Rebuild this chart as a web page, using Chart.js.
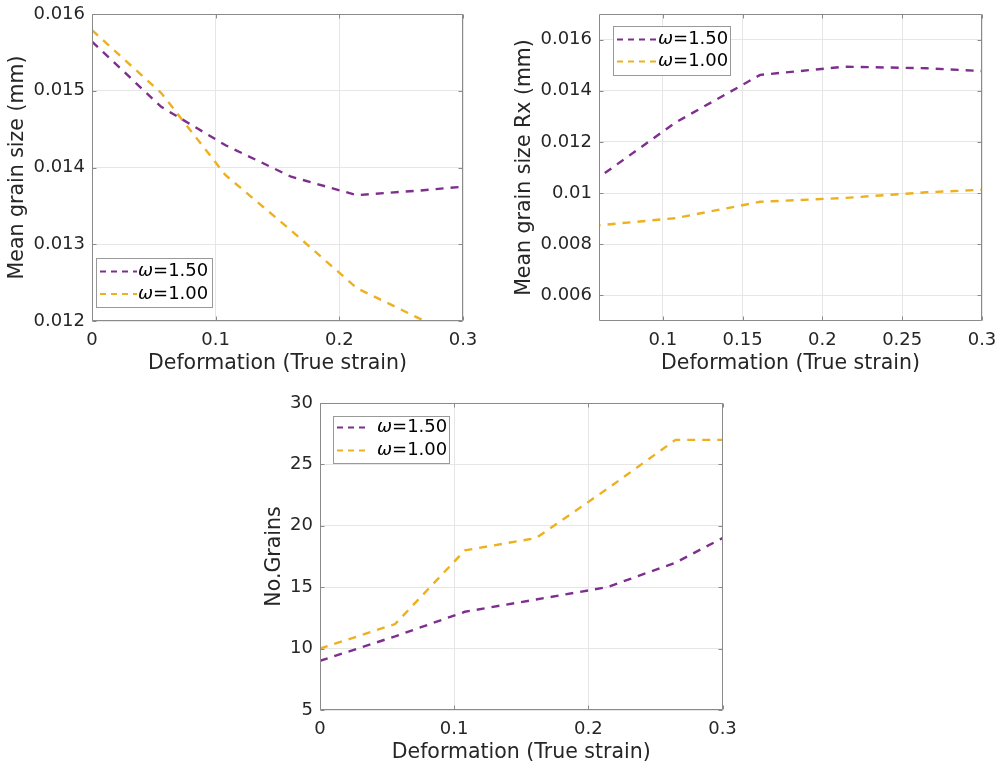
<!DOCTYPE html>
<html>
<head>
<meta charset="utf-8">
<script src="https://cdn.jsdelivr.net/npm/chart.js@4/dist/chart.umd.min.js"></script>
<style>
  body { margin: 0; background: #fff; }
  canvas { position: absolute; }
</style>
</head>
<body>
<canvas id="sizePlot" width="480" height="380" style="left:0;top:0"></canvas>
<canvas id="rxPlot" width="500" height="380" style="left:500px;top:0"></canvas>
<canvas id="grainPlot" width="490" height="380" style="left:250px;top:385px"></canvas>
<script>
// true strain steps shared by all three plots
const strain = [0, 0.056, 0.108, 0.161, 0.214, 0.265, 0.3];

// mean grain size (mm)
const meanSize150 = [0.01564, 0.01479, 0.01429, 0.01388, 0.01364, 0.01370, 0.01375];
const meanSize100 = [0.01579, 0.01497, 0.01390, 0.01318, 0.01243, 0.01203, 0.01176];

// mean grain size of recrystallised grains (mm), none at zero strain
const rxSize150 = [null, 0.01044, 0.01276, 0.01462, 0.01494, 0.01488, 0.01477];
const rxSize100 = [null, 0.00872, 0.00902, 0.00966, 0.00981, 0.01003, 0.01013];

// number of grains
const grains150 = [9, 11, 13, 14, 15, 17, 19];
const grains100 = [10, 12, 18, 19, 23, 27, 27];

const seriesLabels = ['ω=1.50', 'ω=1.00'];

// tick positions
const sizeXTicks = [0, 0.1, 0.2, 0.3];
const sizeYTicks = [0.012, 0.013, 0.014, 0.015, 0.016];
const rxXTicks = [0.1, 0.15, 0.2, 0.25, 0.3];
const rxYTicks = [0.006, 0.008, 0.01, 0.012, 0.014, 0.016];
const grainXTicks = [0, 0.1, 0.2, 0.3];
const grainYTicks = [5, 10, 15, 20, 25, 30];

const PURPLE = '#7E2F8E';
const ORANGE = '#EDB120';
const AXIS = '#8a8a8a';
const TEXT = '#262626';
const FONT = '"DejaVu Sans", sans-serif';

// matlab style box with inward ticks on all four sides
const boxAxes = {
  id: 'boxAxes',
  afterDatasetsDraw(chart) {
    const { ctx, chartArea: a, scales: { x, y } } = chart;
    const l = Math.round(a.left) + 0.5, r = Math.round(a.right) - 0.5;
    const t = Math.round(a.top) + 0.5, b = Math.round(a.bottom) - 0.5;
    ctx.save();
    ctx.strokeStyle = AXIS;
    ctx.lineWidth = 1;
    ctx.beginPath();
    ctx.rect(l, t, r - l, b - t);
    x.ticks.forEach(tk => {
      const px = Math.round(x.getPixelForValue(tk.value)) + 0.5;
      ctx.moveTo(px, b); ctx.lineTo(px, b - 4);
      ctx.moveTo(px, t); ctx.lineTo(px, t + 4);
    });
    y.ticks.forEach(tk => {
      const py = Math.round(y.getPixelForValue(tk.value)) + 0.5;
      ctx.moveTo(l, py); ctx.lineTo(l + 4, py);
      ctx.moveTo(r, py); ctx.lineTo(r - 4, py);
    });
    ctx.stroke();
    ctx.restore();
  }
};

// boxed legend inside the axes, greek letter in italics
const boxLegend = {
  id: 'boxLegend',
  afterDraw(chart, args, o) {
    const { ctx } = chart;
    ctx.save();
    ctx.fillStyle = '#fff';
    ctx.fillRect(o.x, o.y, o.w, o.h);
    ctx.strokeStyle = '#999';
    ctx.lineWidth = 1;
    ctx.strokeRect(Math.round(o.x) + 0.5, Math.round(o.y) + 0.5, Math.round(o.w), Math.round(o.h));
    chart.data.datasets.forEach((ds, i) => {
      const ry = o.rows[i];
      ctx.strokeStyle = ds.borderColor;
      ctx.lineWidth = 2.2;
      ctx.setLineDash([6, 5]);
      ctx.beginPath();
      ctx.moveTo(o.sample[0], ry);
      ctx.lineTo(o.sample[1], ry);
      ctx.stroke();
      ctx.setLineDash([]);
      ctx.fillStyle = '#000';
      ctx.textBaseline = 'middle';
      ctx.font = 'italic 18px ' + FONT;
      const greek = ds.label.charAt(0);
      ctx.fillText(greek, o.textX, ry);
      const gw = ctx.measureText(greek).width;
      ctx.font = '18px ' + FONT;
      ctx.fillText(ds.label.slice(1), o.textX + gw, ry);
    });
    ctx.restore();
  }
};

function series(ys, label, color) {
  return {
    label,
    data: strain.map((s, i) => ({ x: s, y: ys[i] })),
    borderColor: color,
    backgroundColor: color,
    borderWidth: 2.4,
    borderDash: [8, 7],
    pointRadius: 0,
    tension: 0,
    spanGaps: false
  };
}

function axis(min, max, ticks, title, fitSize, titlePad, isY) {
  return {
    type: 'linear',
    min, max,
    afterBuildTicks: sc => { sc.ticks = ticks.map(v => ({ value: v })); },
    // fixed axis size, no extra room for labels hanging past the ends
    afterFit: sc => {
      if (isY) { sc.width = fitSize; sc.paddingTop = 0; sc.paddingBottom = 0; }
      else { sc.height = fitSize; sc.paddingLeft = 0; sc.paddingRight = 0; }
    },
    grid: { color: '#e6e6e6', lineWidth: 1, drawTicks: false },
    border: { display: false },
    ticks: {
      color: TEXT,
      font: { family: FONT, size: 18 },
      padding: isY ? 7 : 9,
      maxRotation: 0,
      autoSkip: false,
      callback: v => String(v)
    },
    title: {
      display: true,
      text: title,
      color: TEXT,
      font: { family: FONT, size: 20.5 },
      padding: isY ? { top: titlePad, bottom: 0 } : { top: 0, bottom: titlePad }
    }
  };
}

function makePlot(id, ys150, ys100, cfg) {
  new Chart(document.getElementById(id), {
    type: 'line',
    data: {
      datasets: [
        series(ys150, seriesLabels[0], PURPLE),
        series(ys100, seriesLabels[1], ORANGE)
      ]
    },
    options: {
      responsive: false,
      animation: false,
      layout: { padding: cfg.padding },
      plugins: {
        legend: { display: false },
        tooltip: { enabled: false },
        boxLegend: cfg.legend
      },
      scales: {
        x: axis(cfg.xMin, cfg.xMax, cfg.xTicks, 'Deformation (True strain)', cfg.xHeight, cfg.xTitlePad, false),
        y: axis(cfg.yMin, cfg.yMax, cfg.yTicks, cfg.yTitle, cfg.yWidth, cfg.yTitlePad, true)
      }
    },
    plugins: [boxAxes, boxLegend]
  });
}

makePlot('sizePlot', meanSize150, meanSize100, {
  xMin: 0, xMax: 0.3, xTicks: sizeXTicks,
  yMin: 0.012, yMax: 0.016, yTicks: sizeYTicks,
  yTitle: 'Mean grain size (mm)',
  padding: { top: 14, right: 17, bottom: 0, left: 0 },
  yWidth: 92, xHeight: 59, yTitlePad: 5, xTitlePad: 4,
  legend: { x: 96, y: 258, w: 116, h: 49, sample: [100, 137], textX: 138, rows: [271.5, 294] }
});

makePlot('rxPlot', rxSize150, rxSize100, {
  xMin: 0.06, xMax: 0.3, xTicks: rxXTicks,
  yMin: 0.005, yMax: 0.017, yTicks: rxYTicks,
  yTitle: 'Mean grain size Rx (mm)',
  padding: { top: 14, right: 18, bottom: 0, left: 0 },
  yWidth: 99, xHeight: 59, yTitlePad: 12.5, xTitlePad: 4,
  legend: { x: 113, y: 26, w: 117, h: 49, sample: [117, 157], textX: 158, rows: [39.5, 61.5] }
});

makePlot('grainPlot', grains150, grains100, {
  xMin: 0, xMax: 0.3, xTicks: grainXTicks,
  yMin: 5, yMax: 30, yTicks: grainYTicks,
  yTitle: 'No.Grains',
  padding: { top: 18, right: 17.5, bottom: 0, left: 0 },
  yWidth: 70, xHeight: 55, yTitlePad: 12.5, xTitlePad: 0.5,
  legend: { x: 83, y: 31, w: 116, h: 47, sample: [87, 118], textX: 127, rows: [42.5, 65.5] }
});
</script>
</body>
</html>
